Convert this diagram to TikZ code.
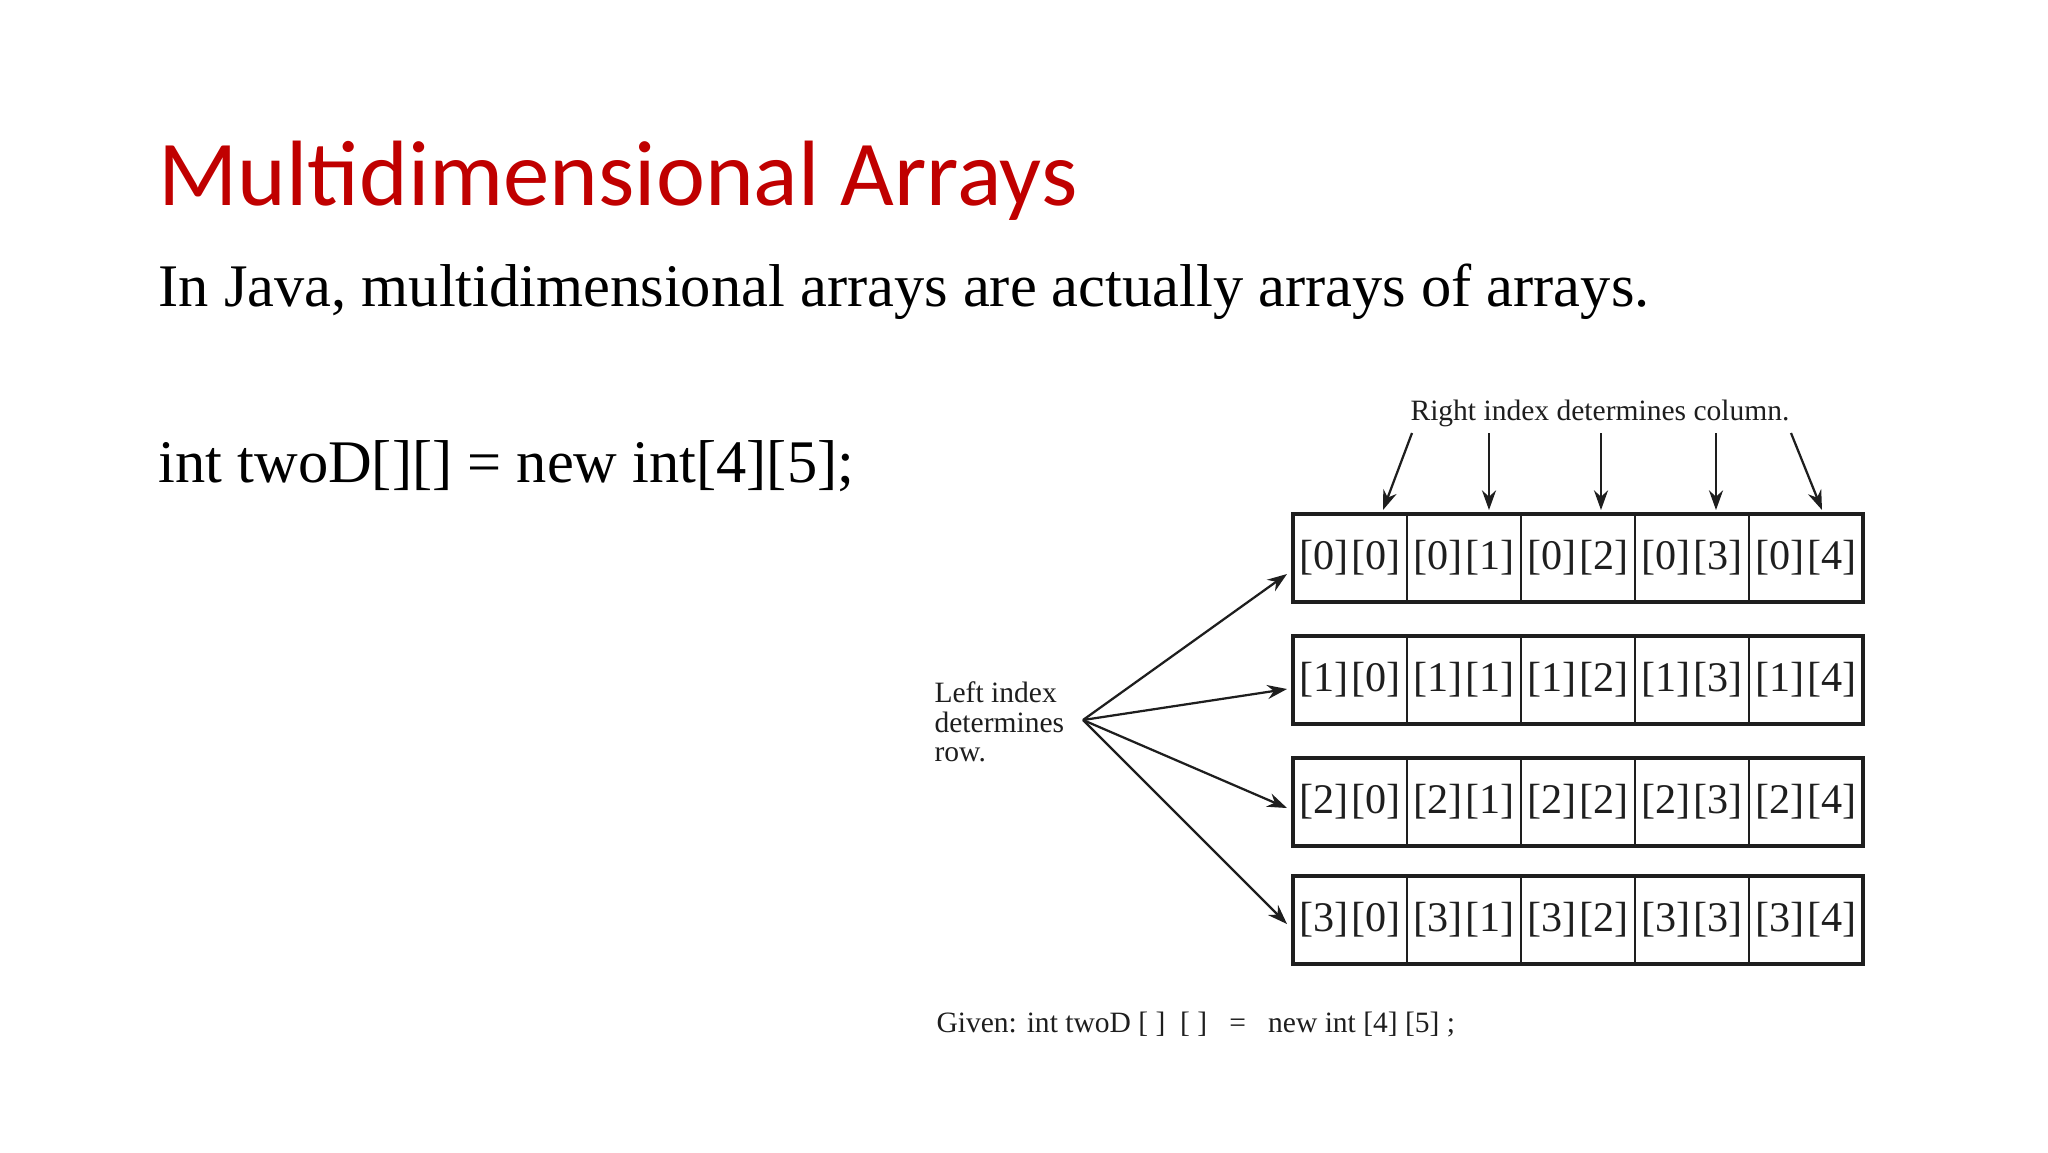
\documentclass[tikz,border=0pt]{standalone}
\usepackage{fontspec}
\setmainfont{Liberation Serif}
\newfontfamily\titlefont{Carlito}
\usetikzlibrary{arrows.meta}
\definecolor{titlered}{RGB}{192,0,0}
\definecolor{ink}{RGB}{30,30,30}
\tikzset{
  lbl/.style={inner sep=0pt, anchor=base west, font=\fontsize{10.5}{12.5}\selectfont, text=ink},
  rowbox/.style={draw=ink, line width=1.5pt},
  cellline/.style={draw=ink, line width=0.6pt},
  cell/.style={inner sep=0pt, font=\fontsize{15}{15}\selectfont, text=ink},
  arr/.style={draw=ink, line width=0.8pt, -{Stealth[length=7pt,width=5pt]}}
}
\begin{document}
\begin{tikzpicture}[x=0.0125cm, y=-0.0125cm]
\useasboundingbox (0,0) rectangle (2048,1152);
\node[inner sep=0pt, anchor=base west, font=\titlefont\fontsize{33}{36}\selectfont, text=titlered] (title) at (158,205) {Multidimensional Arrays};
\node[inner sep=0pt, anchor=base west, font=\fontsize{21.5}{24}\selectfont] (body) at (158,306) {In Java, multidimensional arrays are actually arrays of arrays.};
\node[inner sep=0pt, anchor=base west, font=\fontsize{21.5}{24}\selectfont] (code) at (158,482) {int twoD[][] = new int[4][5];};

\node[lbl, anchor=base] (right) at (1600,420) {Right index determines column.};
\foreach \r/\t in {0/514,1/636,2/758,3/876}{
  \draw[rowbox] (1293,\t) rectangle (1863,\t+88);
  \foreach \c in {0,...,4}{
    \node[cell] (c\r\c) at ({1293+114*\c+57},\t+44) {[\r]\kern1pt[\c]};
  }
  \foreach \c in {1,...,4}{
    \draw[cellline] ({1293+114*\c},\t) -- ({1293+114*\c},\t+88);
  }
  \coordinate (rowin\r) at (1287,\t+44);
}
\coordinate (fan) at (1083,720);
\node[lbl] (l1) at (934,702) {Left index};
\node[lbl] (l2) at (934,732) {determines};
\node[lbl] (l3) at (934,761) {row.};
\coordinate (t0) at (1287,574);
\coordinate (t1) at (1287,689);
\coordinate (t2) at (1287,808);
\coordinate (t3) at (1287,924);
\foreach \i in {0,...,3}{ \draw[arr] (fan) -- (t\i); }

\coordinate (s0) at (1412,433); \coordinate (e0) at (1383,510);
\coordinate (s1) at (1489,433); \coordinate (e1) at (1489,510);
\coordinate (s2) at (1601,433); \coordinate (e2) at (1601,510);
\coordinate (s3) at (1716,433); \coordinate (e3) at (1716,510);
\coordinate (s4) at (1791,433); \coordinate (e4) at (1822,510);
\foreach \i in {0,...,4}{ \draw[arr] (s\i) -- (e\i); }

\node[lbl] (given) at (936,1032) {Given: int twoD [ ]\ \ [ ]\ \ \ =\ \ \ new int [4] [5] ;};
\end{tikzpicture}
\end{document}
